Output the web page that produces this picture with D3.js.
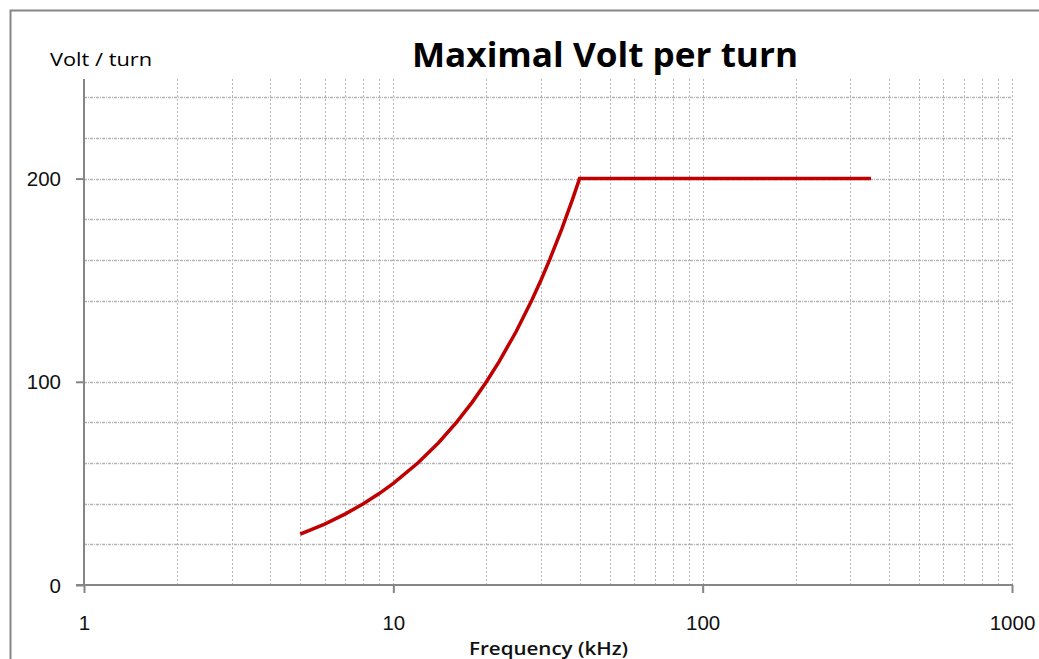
<!DOCTYPE html>
<html><head><meta charset="utf-8">
<script src="https://cdn.jsdelivr.net/npm/d3@7"></script>
<style>body{margin:0;background:#fff;} svg{display:block;}</style>
</head><body>
<svg id="chart" width="1039" height="659"></svg>
<script>
// Data
const frequency = [5, 6, 7, 8, 9, 10, 12, 14, 16, 18, 20, 22, 25, 28, 30, 32, 35, 38, 40, 350];
const voltPerTurn = [25, 30, 35, 40, 45, 50, 60, 70, 80, 90, 100, 110, 125, 140, 150, 160, 175, 190, 200, 200];
const xTickValues = [1, 10, 100, 1000];
const xTickLabels = ["1", "10", "100", "1000"];
const yTickValues = [0, 100, 200];
const yMinorGrid = [20, 40, 60, 80, 100, 140, 160, 180, 200, 220, 240];
const titleText = "Maximal Volt per turn";
const yTitle = "Volt / turn";
const xTitle = "Frequency (kHz)";

(function () {
const svg = d3.select("#chart");
const pLeft = 84, pRight = 1012, pTop = 79, pBottom = 585;
const x = d3.scaleLog().domain([1, 1000]).range([pLeft, pRight]);
const y = d3.scaleLinear().domain([0, 249]).range([pBottom, pTop]);

// outer border
svg.append("path").attr("d", `M10.5,660 L10.5,10.5 L1040,10.5`)
  .attr("fill", "none").attr("stroke", "#868686").attr("stroke-width", 2);

// vertical grid (log minor)
const xGrid = [];
for (let d = 1; d < 1000; d *= 10) for (let k = 2; k <= 10; k++) xGrid.push(d * k);
const gridColor = "#b4b4b4";
svg.append("g").selectAll("line").data(xGrid).join("line")
  .attr("x1", d => Math.round(x(d)) + 0.5).attr("x2", d => Math.round(x(d)) + 0.5)
  .attr("y1", pTop).attr("y2", pBottom)
  .attr("stroke", gridColor).attr("stroke-width", 1).attr("stroke-dasharray", "2,2");
// horizontal grid
svg.append("g").selectAll("line").data(yMinorGrid).join("line")
  .attr("x1", pLeft).attr("x2", pRight)
  .attr("y1", d => Math.round(y(d)) + 0.5).attr("y2", d => Math.round(y(d)) + 0.5)
  .attr("stroke", gridColor).attr("stroke-width", 1.3).attr("stroke-dasharray", "3,1,1,1");

// axes
const axisColor = "#868686";
const xAxis = svg.append("g").attr("transform", `translate(0,${pBottom})`)
  .call(d3.axisBottom(x).tickValues(xTickValues).tickSize(8).tickFormat((d, i) => xTickLabels[i]));
const yAxis = svg.append("g").attr("transform", `translate(${pLeft},0)`)
  .call(d3.axisLeft(y).tickValues(yTickValues).tickSize(8).tickFormat(d3.format("d")));
[xAxis, yAxis].forEach(g => {
  g.select(".domain").remove();
  g.selectAll(".tick line").attr("stroke", axisColor).attr("stroke-width", 2);
  g.selectAll("text").attr("font-family", "'Liberation Sans', 'DejaVu Sans', sans-serif")
    .attr("font-size", 20.5).attr("fill", "#111");
});
xAxis.selectAll(".tick text").attr("dy", null).attr("y", 45);
yAxis.selectAll(".tick text").attr("x", -23).attr("dy", "0.35em");
// axis lines
svg.append("line").attr("x1", pLeft).attr("x2", pLeft).attr("y1", pTop).attr("y2", pBottom + 1)
  .attr("stroke", axisColor).attr("stroke-width", 2);
svg.append("line").attr("x1", pLeft - 8).attr("x2", pRight + 1).attr("y1", pBottom).attr("y2", pBottom)
  .attr("stroke", axisColor).attr("stroke-width", 2);

// curve
const line = d3.line().x((d, i) => x(frequency[i])).y(d => y(d));
svg.append("path").datum(voltPerTurn).attr("d", line)
  .attr("fill", "none").attr("stroke", "#C00000").attr("stroke-width", 3.5);

// texts
svg.append("text").attr("x", 412).attr("y", 67)
  .attr("font-family", "'Open Sans', Lato, sans-serif").attr("font-weight", "bold")
  .attr("font-size", 34).attr("fill", "#000")
  .attr("textLength", 386).attr("lengthAdjust", "spacingAndGlyphs").text(titleText);
svg.append("text").attr("x", 50).attr("y", 66)
  .attr("font-family", "'Open Sans', Lato, sans-serif")
  .attr("font-size", 18).attr("fill", "#000")
  .attr("textLength", 102).attr("lengthAdjust", "spacingAndGlyphs").text(yTitle);
svg.append("text").attr("x", 469).attr("y", 655)
  .attr("font-family", "'Open Sans', Lato, sans-serif").attr("font-weight", 600)
  .attr("font-size", 18).attr("fill", "#111")
  .attr("textLength", 159).attr("lengthAdjust", "spacingAndGlyphs").text(xTitle);
})();
</script>
</body></html>
